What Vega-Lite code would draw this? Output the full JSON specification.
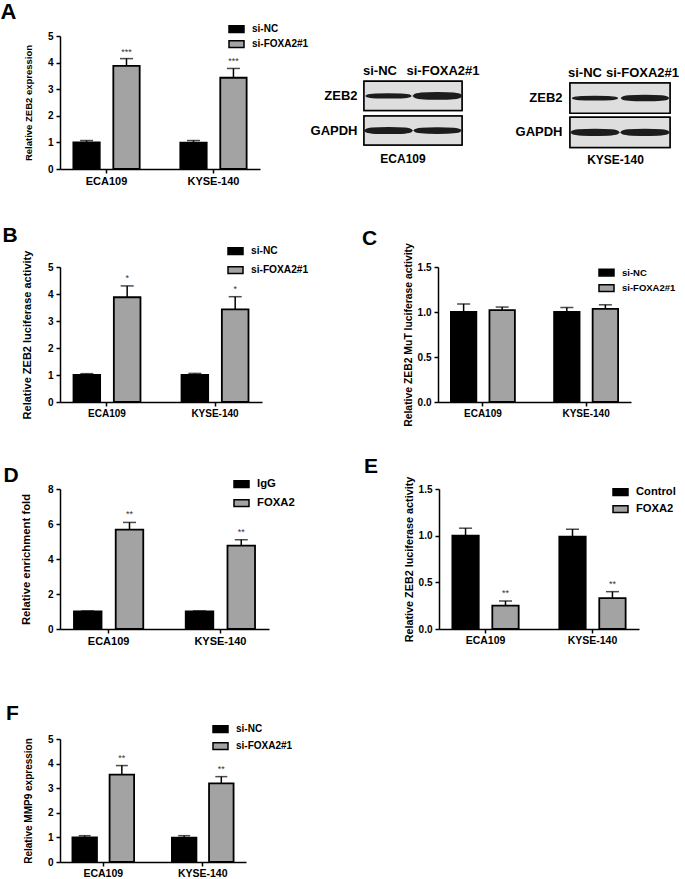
{
  "$schema": "https://vega.github.io/schema/vega-lite/v6.json",
  "padding": 0,
  "background": "white",
  "config": {
    "font": "Liberation Sans",
    "view": {"stroke": null},
    "axis": {"labelFont": "Liberation Sans", "labelFontWeight": "bold", "labelColor": "black", "titleFont": "Liberation Sans", "titleFontWeight": "bold", "titleColor": "black", "domainColor": "black", "tickColor": "black", "domainWidth": 1.5, "tickWidth": 1.5, "grid": false},
    "axisQuantitative": {"labelOverlap": false, "labelSeparation": -100, "labelFlush": false, "labelBound": false},
    "legend": {"symbolType": "M-1,-0.45H1V0.45H-1Z", "symbolSize": 225, "symbolStrokeColor": "black", "symbolStrokeWidth": 1.5, "labelFont": "Liberation Sans", "labelFontWeight": "bold", "labelColor": "black", "labelOffset": 7},
    "title": {"font": "Liberation Sans", "fontWeight": "bold", "color": "black"}
  },
  "datasets": {
    "A": [
      {"cell": "ECA109", "group": "si-NC", "value": 1.0, "upper": 1.07},
      {"cell": "ECA109", "group": "si-FOXA2#1", "value": 3.88, "upper": 4.15, "sig": "***"},
      {"cell": "KYSE-140", "group": "si-NC", "value": 0.99, "upper": 1.07},
      {"cell": "KYSE-140", "group": "si-FOXA2#1", "value": 3.43, "upper": 3.78, "sig": "***"}
    ],
    "B": [
      {"cell": "ECA109", "group": "si-NC", "value": 1.0, "upper": 1.05},
      {"cell": "ECA109", "group": "si-FOXA2#1", "value": 3.88, "upper": 4.3, "sig": "*"},
      {"cell": "KYSE-140", "group": "si-NC", "value": 1.0, "upper": 1.06},
      {"cell": "KYSE-140", "group": "si-FOXA2#1", "value": 3.43, "upper": 3.9, "sig": "*"}
    ],
    "C": [
      {"cell": "ECA109", "group": "si-NC", "value": 1.0, "upper": 1.09},
      {"cell": "ECA109", "group": "si-FOXA2#1", "value": 1.02, "upper": 1.055},
      {"cell": "KYSE-140", "group": "si-NC", "value": 1.0, "upper": 1.05},
      {"cell": "KYSE-140", "group": "si-FOXA2#1", "value": 1.035, "upper": 1.08}
    ],
    "D": [
      {"cell": "ECA109", "group": "IgG", "value": 1.0, "upper": 1.03},
      {"cell": "ECA109", "group": "FOXA2", "value": 5.68, "upper": 6.09, "sig": "**"},
      {"cell": "KYSE-140", "group": "IgG", "value": 1.0, "upper": 1.03},
      {"cell": "KYSE-140", "group": "FOXA2", "value": 4.76, "upper": 5.1, "sig": "**"}
    ],
    "E": [
      {"cell": "ECA109", "group": "Control", "value": 1.0, "upper": 1.08},
      {"cell": "ECA109", "group": "FOXA2", "value": 0.25, "upper": 0.3, "sig": "**"},
      {"cell": "KYSE-140", "group": "Control", "value": 0.99, "upper": 1.07},
      {"cell": "KYSE-140", "group": "FOXA2", "value": 0.33, "upper": 0.4, "sig": "**"}
    ],
    "F": [
      {"cell": "ECA109", "group": "si-NC", "value": 1.0, "upper": 1.07},
      {"cell": "ECA109", "group": "si-FOXA2#1", "value": 3.55, "upper": 3.92, "sig": "**"},
      {"cell": "KYSE-140", "group": "si-NC", "value": 0.99, "upper": 1.07},
      {"cell": "KYSE-140", "group": "si-FOXA2#1", "value": 3.2, "upper": 3.47, "sig": "**"}
    ],
    "blot": [
      {"cell": "ECA109", "protein": "ZEB2", "lane": "si-NC", "intensity": 1.0},
      {"cell": "ECA109", "protein": "ZEB2", "lane": "si-FOXA2#1", "intensity": 2.3},
      {"cell": "ECA109", "protein": "GAPDH", "lane": "si-NC", "intensity": 1.9},
      {"cell": "ECA109", "protein": "GAPDH", "lane": "si-FOXA2#1", "intensity": 1.7},
      {"cell": "KYSE-140", "protein": "ZEB2", "lane": "si-NC", "intensity": 0.8},
      {"cell": "KYSE-140", "protein": "ZEB2", "lane": "si-FOXA2#1", "intensity": 1.6},
      {"cell": "KYSE-140", "protein": "GAPDH", "lane": "si-NC", "intensity": 1.9},
      {"cell": "KYSE-140", "protein": "GAPDH", "lane": "si-FOXA2#1", "intensity": 2.0}
    ]
  },
  "align": "none",
  "spacing": 38,
  "resolve": {"scale": {"x": "independent", "y": "independent", "xOffset": "independent", "fill": "independent", "strokeWidth": "independent"}, "axis": {"x": "independent", "y": "independent"}, "legend": {"fill": "independent", "strokeWidth": "independent"}},
  "vconcat": [
    {
      "align": "none",
      "spacing": 1,
      "resolve": {"scale": {"x": "independent", "y": "independent", "xOffset": "independent", "fill": "independent", "strokeWidth": "independent"}, "axis": {"x": "independent", "y": "independent"}, "legend": {"fill": "independent", "strokeWidth": "independent"}},
      "hconcat": [
        {
          "width": 200, "height": 133,
          "data": {"name": "A"},
          "title": {"text": "A", "anchor": "start", "frame": "bounds", "dx": -23, "fontSize": 22, "offset": -3},
          "encoding": {
            "x": {"field": "cell", "type": "nominal", "sort": ["ECA109", "KYSE-140"], "scale": {"paddingInner": 0.38, "paddingOuter": 0.125}, "axis": {"title": null, "labelAngle": 0, "labelFontSize": 11, "labelPadding": 2, "tickSize": 4}},
            "xOffset": {"field": "group", "type": "nominal", "sort": ["si-NC", "si-FOXA2#1"], "scale": {"paddingInner": 0.34}},
            "y": {"field": "value", "type": "quantitative", "scale": {"domain": [0, 5]}, "axis": {"values": [0, 1, 2, 3, 4, 5], "tickCount": 6, "labelOverlap": false, "title": "Relative ZEB2 expression", "titleFontSize": 9.5, "titlePadding": 14, "labelFontSize": 10, "tickSize": 4, "labelPadding": 3}}
          },
          "layer": [
            {"mark": {"type": "bar", "stroke": "black", "strokeWidth": 1.8},
             "encoding": {
               "fill": {"field": "group", "type": "nominal", "sort": ["si-NC", "si-FOXA2#1"], "scale": {"range": ["#000000", "#a3a3a3"]}, "legend": {"title": null, "orient": "none", "legendX": 168, "legendY": -15.5, "rowPadding": 0, "labelFontSize": 10}}}},
            {"mark": {"type": "rule", "strokeWidth": 1.5, "color": "black"}, "encoding": {"y2": {"field": "upper"}}},
            {"mark": {"type": "tick", "thickness": 1.5, "size": 13, "color": "black", "orient": "horizontal"}, "encoding": {"y": {"field": "upper", "type": "quantitative"}}},
            {"transform": [{"filter": "datum.sig"}], "mark": {"type": "text", "dy": -7, "fontSize": 9, "color": "#333333"}, "encoding": {"y": {"field": "upper", "type": "quantitative"}, "text": {"field": "sig"}}}
          ]
        },
        {
          "align": "none",
          "spacing": 35,
          "resolve": {"scale": {"x": "independent", "y": "independent", "strokeWidth": "independent"}, "axis": {"x": "independent", "y": "independent"}, "legend": {"strokeWidth": "independent"}},
          "hconcat": [
            {
              "width": 98, "height": 133,
              "data": {"name": "blot"},
              "transform": [{"filter": "datum.cell === 'ECA109'"}],
              "encoding": {
                "x": {"field": "lane", "type": "nominal", "sort": ["si-NC", "si-FOXA2#1"], "scale": {"paddingInner": 0, "paddingOuter": 0}, "axis": null},
                "y": {"field": "protein", "type": "nominal", "sort": ["ZEB2", "GAPDH"], "scale": {"paddingInner": 0.16, "paddingOuter": 1.74, "align": 0.655}, "axis": {"title": null, "domain": false, "ticks": false, "tickSize": 0, "labelFontSize": 13, "labelPadding": 7}}
              },
              "layer": [
                {"mark": {"type": "rect", "fill": "#dedede", "stroke": "black", "strokeWidth": 1.5}, "encoding": {"x": null}},
                {"mark": {"type": "point", "shape": "M-1,0C-0.9,-0.1 0.9,-0.1 1,0C0.9,0.1 -0.9,0.1 -1,0Z", "filled": true, "fill": "#1c1c1c", "stroke": "#1c1c1c", "size": 1900, "opacity": 1},
                 "encoding": {"strokeWidth": {"field": "intensity", "type": "quantitative", "scale": {"domain": [0, 2.5], "range": [0, 5]}, "legend": null}}},
                {"transform": [{"filter": "datum.protein === 'ZEB2'"}],
                 "mark": {"type": "text", "fontSize": 13, "fontWeight": "bold", "color": "black", "baseline": "alphabetic", "dy": -20.8, "dx": {"expr": "datum.lane === 'si-NC' ? -8.5 : 5.5"}},
                 "encoding": {"text": {"field": "lane"}}},
                {"transform": [{"filter": "datum.protein === 'GAPDH' && datum.lane === 'si-NC'"}],
                 "mark": {"type": "text", "fontSize": 12, "fontWeight": "bold", "color": "black", "baseline": "alphabetic", "dy": 32.5, "dx": -10},
                 "encoding": {"x": null, "text": {"field": "cell"}}}
              ]
            },
            {
              "width": 100, "height": 133,
              "data": {"name": "blot"},
              "transform": [{"filter": "datum.cell === 'KYSE-140'"}],
              "encoding": {
                "x": {"field": "lane", "type": "nominal", "sort": ["si-NC", "si-FOXA2#1"], "scale": {"paddingInner": 0, "paddingOuter": 0}, "axis": null},
                "y": {"field": "protein", "type": "nominal", "sort": ["ZEB2", "GAPDH"], "scale": {"paddingInner": 0.12, "paddingOuter": 1.72, "align": 0.686}, "axis": {"title": null, "domain": false, "ticks": false, "tickSize": 0, "labelFontSize": 13, "labelPadding": 8}}
              },
              "layer": [
                {"mark": {"type": "rect", "fill": "#dedede", "stroke": "black", "strokeWidth": 1.5}, "encoding": {"x": null}},
                {"mark": {"type": "point", "shape": "M-1,0C-0.9,-0.1 0.9,-0.1 1,0C0.9,0.1 -0.9,0.1 -1,0Z", "filled": true, "fill": "#1c1c1c", "stroke": "#1c1c1c", "size": 1950, "opacity": 1},
                 "encoding": {"strokeWidth": {"field": "intensity", "type": "quantitative", "scale": {"domain": [0, 2.5], "range": [0, 5]}, "legend": null}}},
                {"transform": [{"filter": "datum.protein === 'ZEB2'"}],
                 "mark": {"type": "text", "fontSize": 13, "fontWeight": "bold", "color": "black", "baseline": "alphabetic", "dy": -21, "dx": {"expr": "datum.lane === 'si-NC' ? -10 : -2.5"}},
                 "encoding": {"text": {"field": "lane"}}},
                {"transform": [{"filter": "datum.protein === 'GAPDH' && datum.lane === 'si-NC'"}],
                 "mark": {"type": "text", "fontSize": 12, "fontWeight": "bold", "color": "black", "baseline": "alphabetic", "dy": 32, "dx": -4.5},
                 "encoding": {"x": null, "text": {"field": "cell"}}}
              ]
            }
          ]
        }
      ]
    },
    {
      "align": "none",
      "spacing": 29,
      "resolve": {"scale": {"x": "independent", "y": "independent", "xOffset": "independent", "fill": "independent"}, "axis": {"x": "independent", "y": "independent"}, "legend": {"fill": "independent"}},
      "vconcat": [
        {
          "align": "none",
          "spacing": 53,
          "resolve": {"scale": {"x": "independent", "y": "independent", "xOffset": "independent", "fill": "independent"}, "axis": {"x": "independent", "y": "independent"}, "legend": {"fill": "independent"}},
          "hconcat": [
            {
              "width": 202, "height": 135,
              "data": {"name": "B"},
              "title": {"text": "B", "anchor": "start", "frame": "bounds", "dx": -19, "fontSize": 21, "offset": -3},
              "encoding": {
                "x": {"field": "cell", "type": "nominal", "sort": ["ECA109", "KYSE-140"], "scale": {"paddingInner": 0.38, "paddingOuter": 0.125}, "axis": {"title": null, "labelAngle": 0, "labelFontSize": 10, "labelPadding": 2, "tickSize": 4}},
                "xOffset": {"field": "group", "type": "nominal", "sort": ["si-NC", "si-FOXA2#1"], "scale": {"paddingInner": 0.34}},
                "y": {"field": "value", "type": "quantitative", "scale": {"domain": [0, 5]}, "axis": {"values": [0, 1, 2, 3, 4, 5], "tickCount": 6, "labelOverlap": false, "title": "Relative ZEB2 luciferase activity", "titleFontSize": 11, "titlePadding": 15, "labelFontSize": 10, "tickSize": 4, "labelPadding": 3}}
              },
              "layer": [
                {"mark": {"type": "bar", "stroke": "black", "strokeWidth": 1.8},
                 "encoding": {
                   "fill": {"field": "group", "type": "nominal", "sort": ["si-NC", "si-FOXA2#1"], "scale": {"range": ["#000000", "#a3a3a3"]}, "legend": {"title": null, "orient": "none", "legendX": 167, "legendY": -24.5, "rowPadding": 4, "labelFontSize": 10.2}}}},
                {"mark": {"type": "rule", "strokeWidth": 1.5, "color": "black"}, "encoding": {"y2": {"field": "upper"}}},
                {"mark": {"type": "tick", "thickness": 1.5, "size": 13, "color": "black", "orient": "horizontal"}, "encoding": {"y": {"field": "upper", "type": "quantitative"}}},
                {"transform": [{"filter": "datum.sig"}], "mark": {"type": "text", "dy": -8, "fontSize": 9, "color": "#333333"}, "encoding": {"y": {"field": "upper", "type": "quantitative"}, "text": {"field": "sig"}}}
              ]
            },
            {
              "width": 193, "height": 135,
              "data": {"name": "C"},
              "title": {"text": "C", "anchor": "start", "frame": "bounds", "dx": -41, "fontSize": 21, "offset": -6},
              "encoding": {
                "x": {"field": "cell", "type": "nominal", "sort": ["ECA109", "KYSE-140"], "scale": {"paddingInner": 0.38, "paddingOuter": 0.125}, "axis": {"title": null, "labelAngle": 0, "labelFontSize": 10, "labelPadding": 2, "tickSize": 4}},
                "xOffset": {"field": "group", "type": "nominal", "sort": ["si-NC", "si-FOXA2#1"], "scale": {"paddingInner": 0.34}},
                "y": {"field": "value", "type": "quantitative", "scale": {"domain": [0, 1.5]}, "axis": {"values": [0, 0.5, 1, 1.5], "tickCount": 4, "labelOverlap": false, "format": ".1f", "title": "Relative ZEB2 MuT luciferase activity", "titleFontSize": 10.4, "titlePadding": 4, "labelFontSize": 10, "tickSize": 4, "labelPadding": 3}}
              },
              "layer": [
                {"mark": {"type": "bar", "stroke": "black", "strokeWidth": 1.8},
                 "encoding": {
                   "fill": {"field": "group", "type": "nominal", "sort": ["si-NC", "si-FOXA2#1"], "scale": {"range": ["#000000", "#a3a3a3"]}, "legend": {"title": null, "orient": "none", "legendX": 160, "legendY": -3, "rowPadding": 0.5, "labelFontSize": 9.5}}}},
                {"mark": {"type": "rule", "strokeWidth": 1.5, "color": "black"}, "encoding": {"y2": {"field": "upper"}}},
                {"mark": {"type": "tick", "thickness": 1.5, "size": 13, "color": "black", "orient": "horizontal"}, "encoding": {"y": {"field": "upper", "type": "quantitative"}}}
              ]
            }
          ]
        },
        {
          "align": "none",
          "spacing": 56,
          "resolve": {"scale": {"x": "independent", "y": "independent", "xOffset": "independent", "fill": "independent"}, "axis": {"x": "independent", "y": "independent"}, "legend": {"fill": "independent"}},
          "vconcat": [
            {
              "align": "none",
              "spacing": 69,
              "resolve": {"scale": {"x": "independent", "y": "independent", "xOffset": "independent", "fill": "independent"}, "axis": {"x": "independent", "y": "independent"}, "legend": {"fill": "independent"}},
              "hconcat": [
                {
                  "width": 209, "height": 140,
                  "data": {"name": "D"},
                  "title": {"text": "D", "anchor": "start", "frame": "bounds", "dx": -17, "fontSize": 21, "offset": -10},
                  "encoding": {
                    "x": {"field": "cell", "type": "nominal", "sort": ["ECA109", "KYSE-140"], "scale": {"paddingInner": 0.38, "paddingOuter": 0.125}, "axis": {"title": null, "labelAngle": 0, "labelFontSize": 11, "labelPadding": 2, "tickSize": 4}},
                    "xOffset": {"field": "group", "type": "nominal", "sort": ["IgG", "FOXA2"], "scale": {"paddingInner": 0.34}},
                    "y": {"field": "value", "type": "quantitative", "scale": {"domain": [0, 8]}, "axis": {"values": [0, 2, 4, 6, 8], "tickCount": 5, "labelOverlap": false, "title": "Relative enrichment fold", "titleFontSize": 11.3, "titlePadding": 16, "labelFontSize": 10, "tickSize": 4, "labelPadding": 3}}
                  },
                  "layer": [
                    {"mark": {"type": "bar", "stroke": "black", "strokeWidth": 1.8},
                     "encoding": {
                       "fill": {"field": "group", "type": "nominal", "sort": ["IgG", "FOXA2"], "scale": {"range": ["#000000", "#a3a3a3"]}, "legend": {"title": null, "orient": "none", "legendX": 173, "legendY": -13.5, "rowPadding": 4, "labelFontSize": 11.3}}}},
                    {"mark": {"type": "rule", "strokeWidth": 1.5, "color": "black"}, "encoding": {"y2": {"field": "upper"}}},
                    {"mark": {"type": "tick", "thickness": 1.5, "size": 13, "color": "black", "orient": "horizontal"}, "encoding": {"y": {"field": "upper", "type": "quantitative"}}},
                    {"transform": [{"filter": "datum.sig"}], "mark": {"type": "text", "dy": -8, "fontSize": 9, "color": "#333333"}, "encoding": {"y": {"field": "upper", "type": "quantitative"}, "text": {"field": "sig"}}}
                  ]
                },
                {
                  "width": 200, "height": 140,
                  "data": {"name": "E"},
                  "title": {"text": "E", "anchor": "start", "frame": "bounds", "dx": -39, "fontSize": 21, "offset": -1.3},
                  "encoding": {
                    "x": {"field": "cell", "type": "nominal", "sort": ["ECA109", "KYSE-140"], "scale": {"paddingInner": 0.38, "paddingOuter": 0.125}, "axis": {"title": null, "labelAngle": 0, "labelFontSize": 10.5, "labelPadding": 2, "tickSize": 4}},
                    "xOffset": {"field": "group", "type": "nominal", "sort": ["Control", "FOXA2"], "scale": {"paddingInner": 0.34}},
                    "y": {"field": "value", "type": "quantitative", "scale": {"domain": [0, 1.5]}, "axis": {"values": [0, 0.5, 1, 1.5], "tickCount": 4, "labelOverlap": false, "format": ".1f", "title": "Relative ZEB2 luciferase activity", "titleFontSize": 10.8, "titlePadding": 4, "labelFontSize": 10, "tickSize": 4, "labelPadding": 3}}
                  },
                  "layer": [
                    {"mark": {"type": "bar", "stroke": "black", "strokeWidth": 1.8},
                     "encoding": {
                       "fill": {"field": "group", "type": "nominal", "sort": ["Control", "FOXA2"], "scale": {"range": ["#000000", "#a3a3a3"]}, "legend": {"title": null, "orient": "none", "legendX": 173, "legendY": -5.5, "rowPadding": 2, "labelFontSize": 11.2}}}},
                    {"mark": {"type": "rule", "strokeWidth": 1.5, "color": "black"}, "encoding": {"y2": {"field": "upper"}}},
                    {"mark": {"type": "tick", "thickness": 1.5, "size": 13, "color": "black", "orient": "horizontal"}, "encoding": {"y": {"field": "upper", "type": "quantitative"}}},
                    {"transform": [{"filter": "datum.sig"}], "mark": {"type": "text", "dy": -8, "fontSize": 9, "color": "#333333"}, "encoding": {"y": {"field": "upper", "type": "quantitative"}, "text": {"field": "sig"}}}
                  ]
                }
              ]
            },
            {
              "width": 186, "height": 123,
              "data": {"name": "F"},
              "title": {"text": "F", "anchor": "start", "frame": "bounds", "dx": -17.5, "fontSize": 21, "offset": -3},
              "encoding": {
                "x": {"field": "cell", "type": "nominal", "sort": ["ECA109", "KYSE-140"], "scale": {"paddingInner": 0.38, "paddingOuter": 0.125}, "axis": {"title": null, "labelAngle": 0, "labelFontSize": 10.5, "labelPadding": 2, "tickSize": 4}},
                "xOffset": {"field": "group", "type": "nominal", "sort": ["si-NC", "si-FOXA2#1"], "scale": {"paddingInner": 0.34}},
                "y": {"field": "value", "type": "quantitative", "scale": {"domain": [0, 5]}, "axis": {"values": [0, 1, 2, 3, 4, 5], "tickCount": 6, "labelOverlap": false, "title": "Relative MMP9 expression", "titleFontSize": 10, "titlePadding": 14, "labelFontSize": 10, "tickSize": 4, "labelPadding": 3}}
              },
              "layer": [
                {"mark": {"type": "bar", "stroke": "black", "strokeWidth": 1.8},
                 "encoding": {
                   "fill": {"field": "group", "type": "nominal", "sort": ["si-NC", "si-FOXA2#1"], "scale": {"range": ["#000000", "#a3a3a3"]}, "legend": {"title": null, "orient": "none", "legendX": 152, "legendY": -18.5, "rowPadding": 2, "labelFontSize": 10}}}},
                {"mark": {"type": "rule", "strokeWidth": 1.5, "color": "black"}, "encoding": {"y2": {"field": "upper"}}},
                {"mark": {"type": "tick", "thickness": 1.5, "size": 12, "color": "black", "orient": "horizontal"}, "encoding": {"y": {"field": "upper", "type": "quantitative"}}},
                {"transform": [{"filter": "datum.sig"}], "mark": {"type": "text", "dy": -8, "fontSize": 9, "color": "#333333"}, "encoding": {"y": {"field": "upper", "type": "quantitative"}, "text": {"field": "sig"}}}
              ]
            }
          ]
        }
      ]
    }
  ]
}
